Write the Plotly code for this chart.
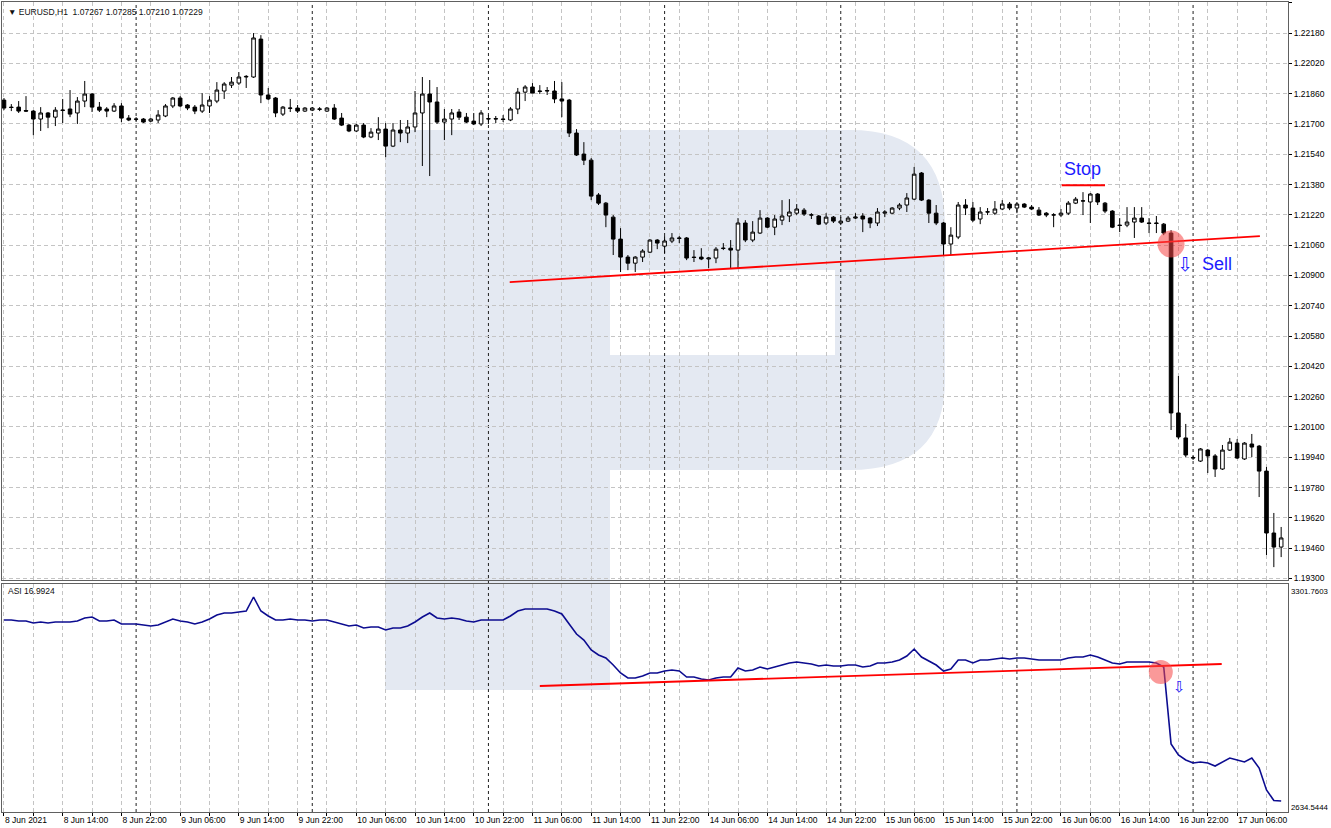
import plotly.graph_objects as go

# ---------------- data ----------------
bars = list(range(175))
open_ = [
 1.21826,1.21789,1.21789,1.21771,1.21768,1.21726,1.21758,1.21736,1.21771,1.21779,
 1.21758,1.21821,1.21858,1.21789,1.21779,1.21768,1.21795,1.21731,1.21726,1.21726,
 1.21715,1.21721,1.21742,1.21795,1.21837,1.21800,1.21789,1.21768,1.21795,1.21821,
 1.21874,1.21905,1.21916,1.21948,1.21948,1.22148,1.21853,1.21837,1.21752,1.21784,
 1.21784,1.21768,1.21773,1.21779,1.21768,1.21784,1.21731,1.21694,1.21663,1.21694,
 1.21631,1.21652,1.21673,1.21583,1.21668,1.21652,1.21684,1.21758,1.21858,1.21816,
 1.21710,1.21726,1.21763,1.21736,1.21715,1.21700,1.21726,1.21726,1.21726,1.21721,
 1.21779,1.21868,1.21895,1.21874,1.21874,1.21874,1.21832,1.21826,1.21652,1.21541,
 1.21509,1.21325,1.21282,1.21208,1.21092,1.20997,1.20965,1.20997,1.21023,1.21087,
 1.21055,1.21082,1.21098,1.21098,1.20997,1.20997,1.20987,1.20992,1.21044,1.21044,
 1.21034,1.21177,1.21087,1.21124,1.21203,1.21155,1.21192,1.21214,1.21229,1.21245,
 1.21219,1.21214,1.21177,1.21208,1.21177,1.21187,1.21203,1.21214,1.21203,1.21177,
 1.21229,1.21229,1.21256,1.21272,1.21303,1.21441,1.21298,1.21229,1.21177,1.21066,
 1.21103,1.21272,1.21256,1.21198,1.21235,1.21229,1.21251,1.21277,1.21256,1.21277,
 1.21261,1.21245,1.21229,1.21219,1.21219,1.21229,1.21282,1.21293,1.21288,1.21330,
 1.21282,1.21240,1.21166,1.21166,1.21182,1.21203,1.21177,1.21177,1.21171,1.21124,
 1.20174,1.20042,1.19936,1.19920,1.19978,1.19947,1.19878,1.19978,1.20015,1.19931,
 1.20010,1.19999,1.19867,1.19540,1.19466]
high = [
 1.21837,1.21805,1.21821,1.21847,1.21773,1.21789,1.21763,1.21789,1.21832,1.21879,
 1.21842,1.21927,1.21863,1.21816,1.21789,1.21810,1.21810,1.21747,1.21736,1.21731,
 1.21731,1.21773,1.21805,1.21842,1.21847,1.21805,1.21800,1.21863,1.21847,1.21921,
 1.21921,1.21948,1.21974,1.21958,1.22180,1.22169,1.21890,1.21842,1.21795,1.21832,
 1.21800,1.21789,1.21789,1.21789,1.21789,1.21805,1.21758,1.21700,1.21700,1.21705,
 1.21678,1.21736,1.21705,1.21705,1.21721,1.21721,1.21874,1.21948,1.21932,1.21895,
 1.21779,1.21779,1.21779,1.21758,1.21758,1.21773,1.21747,1.21742,1.21747,1.21789,
 1.21890,1.21905,1.21916,1.21905,1.21895,1.21927,1.21921,1.21832,1.21673,1.21604,
 1.21520,1.21335,1.21288,1.21219,1.21150,1.21008,1.21002,1.21039,1.21092,1.21092,
 1.21108,1.21124,1.21108,1.21103,1.21034,1.21044,1.20997,1.21050,1.21071,1.21087,
 1.21203,1.21192,1.21187,1.21245,1.21208,1.21219,1.21298,1.21303,1.21277,1.21256,
 1.21229,1.21219,1.21229,1.21214,1.21208,1.21214,1.21229,1.21229,1.21208,1.21256,
 1.21245,1.21261,1.21282,1.21335,1.21473,1.21446,1.21303,1.21272,1.21182,1.21155,
 1.21288,1.21303,1.21288,1.21261,1.21256,1.21293,1.21298,1.21288,1.21288,1.21282,
 1.21272,1.21261,1.21235,1.21229,1.21251,1.21293,1.21314,1.21340,1.21335,1.21335,
 1.21288,1.21245,1.21203,1.21261,1.21261,1.21261,1.21203,1.21214,1.21177,1.21139,
 1.20369,1.20116,1.19947,1.19989,1.19984,1.19957,1.20005,1.20042,1.20036,1.20020,
 1.20063,1.20005,1.19889,1.19646,1.19572]
low = [
 1.21773,1.21768,1.21758,1.21763,1.21641,1.21663,1.21678,1.21689,1.21705,1.21736,
 1.21700,1.21789,1.21763,1.21763,1.21736,1.21763,1.21710,1.21715,1.21715,1.21705,
 1.21710,1.21705,1.21736,1.21784,1.21789,1.21773,1.21752,1.21758,1.21758,1.21810,
 1.21832,1.21890,1.21905,1.21890,1.21943,1.21810,1.21826,1.21736,1.21742,1.21763,
 1.21758,1.21763,1.21768,1.21768,1.21763,1.21721,1.21689,1.21657,1.21657,1.21625,
 1.21625,1.21615,1.21525,1.21578,1.21604,1.21599,1.21657,1.21478,1.21425,1.21700,
 1.21615,1.21641,1.21721,1.21705,1.21694,1.21689,1.21700,1.21705,1.21710,1.21715,
 1.21752,1.21821,1.21863,1.21858,1.21853,1.21810,1.21736,1.21631,1.21531,1.21483,
 1.21298,1.21272,1.21155,1.21008,1.20918,1.20928,1.20918,1.20971,1.21018,1.21039,
 1.21018,1.21071,1.21071,1.20981,1.20971,1.20981,1.20939,1.20965,1.21034,1.20939,
 1.20939,1.21076,1.21076,1.21119,1.21150,1.21113,1.21166,1.21182,1.21219,1.21214,
 1.21198,1.21166,1.21166,1.21177,1.21166,1.21182,1.21198,1.21129,1.21150,1.21161,
 1.21208,1.21224,1.21245,1.21235,1.21298,1.21293,1.21177,1.21166,1.21008,1.21008,
 1.21092,1.21219,1.21182,1.21171,1.21219,1.21219,1.21245,1.21245,1.21229,1.21256,
 1.21245,1.21214,1.21208,1.21155,1.21208,1.21219,1.21277,1.21219,1.21177,1.21272,
 1.21229,1.21150,1.21129,1.21155,1.21098,1.21177,1.21124,1.21124,1.21113,1.20084,
 1.20036,1.19941,1.19926,1.19915,1.19857,1.19836,1.19873,1.19973,1.19931,1.19926,
 1.19941,1.19730,1.19424,1.19360,1.19413]
close = [
 1.21784,1.21787,1.21768,1.21768,1.21726,1.21758,1.21736,1.21773,1.21773,1.21752,
 1.21821,1.21858,1.21789,1.21773,1.21768,1.21795,1.21731,1.21721,1.21725,1.21710,
 1.21726,1.21747,1.21795,1.21837,1.21795,1.21784,1.21768,1.21800,1.21826,1.21879,
 1.21911,1.21921,1.21948,1.21951,1.22154,1.21853,1.21832,1.21758,1.21789,1.21783,
 1.21768,1.21784,1.21784,1.21778,1.21784,1.21726,1.21694,1.21663,1.21694,1.21631,
 1.21657,1.21673,1.21583,1.21668,1.21652,1.21684,1.21758,1.21858,1.21816,1.21710,
 1.21726,1.21758,1.21736,1.21710,1.21700,1.21758,1.21728,1.21728,1.21724,1.21779,
 1.21868,1.21895,1.21863,1.21872,1.21876,1.21832,1.21821,1.21652,1.21536,1.21509,
 1.21319,1.21282,1.21219,1.21092,1.20997,1.20965,1.20997,1.21029,1.21087,1.21071,
 1.21082,1.21098,1.21096,1.20992,1.20995,1.20987,1.20992,1.21039,1.21043,1.21034,
 1.21177,1.21087,1.21129,1.21203,1.21155,1.21198,1.21214,1.21235,1.21251,1.21224,
 1.21220,1.21171,1.21208,1.21187,1.21187,1.21203,1.21208,1.21198,1.21177,1.21235,
 1.21235,1.21256,1.21272,1.21309,1.21435,1.21298,1.21229,1.21177,1.21066,1.21113,
 1.21272,1.21256,1.21192,1.21235,1.21236,1.21251,1.21277,1.21256,1.21277,1.21261,
 1.21251,1.21219,1.21219,1.21220,1.21229,1.21282,1.21303,1.21294,1.21330,1.21288,
 1.21240,1.21155,1.21164,1.21182,1.21203,1.21182,1.21175,1.21175,1.21124,1.20174,
 1.20047,1.19952,1.19938,1.19984,1.19947,1.19878,1.19978,1.20020,1.19936,1.20015,
 1.19994,1.19867,1.19540,1.19466,1.19514]
asi = [
 3193.6,3193.6,3190.5,3190.5,3184.4,3187.4,3184.4,3187.4,3187.4,3187.4,
 3190.5,3199.8,3202.9,3190.5,3190.5,3193.6,3181.3,3181.3,3181.3,3178.2,
 3175.1,3178.2,3187.4,3196.7,3190.5,3187.4,3181.3,3187.4,3196.7,3209.1,
 3215.2,3215.2,3218.3,3221.4,3264.7,3221.4,3206.0,3193.6,3193.6,3196.7,
 3193.6,3193.6,3190.5,3193.6,3193.6,3187.4,3181.3,3175.1,3178.2,3168.9,
 3172.0,3172.0,3162.7,3168.9,3168.9,3175.1,3187.4,3202.9,3215.2,3199.8,
 3196.7,3199.8,3196.7,3190.5,3187.4,3193.6,3193.6,3193.6,3193.6,3206.0,
 3221.4,3227.6,3227.6,3227.6,3227.6,3221.4,3212.2,3181.3,3150.4,3131.8,
 3100.9,3085.5,3076.2,3054.6,3029.9,3014.5,3014.5,3020.6,3029.9,3029.9,
 3036.1,3039.2,3036.1,3017.5,3017.5,3011.4,3008.3,3014.5,3017.5,3017.5,
 3045.3,3036.1,3039.2,3048.4,3042.3,3048.4,3054.6,3060.8,3063.9,3060.8,
 3057.7,3051.5,3054.6,3051.5,3051.5,3054.6,3054.6,3048.4,3051.5,3060.8,
 3060.8,3063.9,3070.1,3082.4,3104.0,3079.3,3067.0,3054.6,3036.1,3042.3,
 3070.1,3070.1,3060.8,3070.1,3070.1,3073.1,3076.2,3073.1,3076.2,3076.2,
 3073.1,3070.1,3070.1,3070.1,3070.1,3076.2,3079.3,3079.3,3085.5,3079.3,
 3070.1,3060.8,3057.7,3063.9,3063.9,3063.9,3063.9,3060.8,3048.4,2810.6,
 2776.6,2761.2,2751.9,2755.0,2751.9,2742.6,2755.0,2767.3,2761.2,2755.0,
 2767.3,2736.4,2668.5,2636.2,2634.5444]

tick_bars = list(range(0, 175, 4))
date_labels = {0: "8 Jun 2021", 8: "8 Jun 14:00", 16: "8 Jun 22:00", 24: "9 Jun 06:00",
               32: "9 Jun 14:00", 40: "9 Jun 22:00", 48: "10 Jun 06:00", 56: "10 Jun 14:00",
               64: "10 Jun 22:00", 72: "11 Jun 06:00", 80: "11 Jun 14:00", 88: "11 Jun 22:00",
               96: "14 Jun 06:00", 104: "14 Jun 14:00", 112: "14 Jun 22:00", 120: "15 Jun 06:00",
               128: "15 Jun 14:00", 136: "15 Jun 22:00", 144: "16 Jun 06:00", 152: "16 Jun 14:00",
               160: "16 Jun 22:00", 168: "17 Jun 06:00"}
day_starts = [18, 42, 66, 90, 114, 138, 162]

trend_price_x = [68.9, 171.1]
trend_price_y = [1.20865, 1.21108]
stop_x = [144.1, 150.0]
stop_y = [1.21377, 1.21377]
signal_price_x = [159.0]
signal_price_y = [1.21066]
trend_asi_x = [73.0, 165.9]
trend_asi_y = [2989.8, 3057.7]
signal_asi_x = [157.6]
signal_asi_y = [3033.0]

asi_max_label = 3301.7603
asi_min_label = 2634.5444

# ---------------- geometry ----------------
W, H = 1331, 828
ML, MR, MT, MB = 2, 43, 2, 16
PW = W - ML - MR
PH = H - MT - MB

def px(x):
    return (x - ML) / PW

def py(y):
    return (MT + PH - y) / PH

FONT = "Liberation Sans"
GRID = "#c4c4c4"
FRAME = "#606060"

fig = go.Figure()

fig.add_trace(go.Candlestick(
    x=bars, open=open_, high=high, low=low, close=close,
    increasing=dict(line=dict(color="black", width=1), fillcolor="white"),
    decreasing=dict(line=dict(color="black", width=1), fillcolor="black"),
    whiskerwidth=0, xaxis="x", yaxis="y", showlegend=False, hoverinfo="skip"))

fig.add_trace(go.Scatter(x=trend_price_x, y=trend_price_y, mode="lines",
                         line=dict(color="#ff0000", width=1.8), xaxis="x", yaxis="y",
                         showlegend=False, hoverinfo="skip"))
fig.add_trace(go.Scatter(x=stop_x, y=stop_y, mode="lines",
                         line=dict(color="#ff0000", width=2), xaxis="x", yaxis="y",
                         showlegend=False, hoverinfo="skip"))
fig.add_trace(go.Scatter(x=signal_price_x, y=signal_price_y, mode="markers",
                         marker=dict(size=27, color="rgba(245,70,70,0.55)", line=dict(width=0)),
                         xaxis="x", yaxis="y", showlegend=False, hoverinfo="skip"))

fig.add_trace(go.Scatter(x=bars, y=asi, mode="lines",
                         line=dict(color="#0c0c90", width=1.6), xaxis="x2", yaxis="y2",
                         showlegend=False, hoverinfo="skip"))
fig.add_trace(go.Scatter(x=trend_asi_x, y=trend_asi_y, mode="lines",
                         line=dict(color="#ff0000", width=1.8), xaxis="x2", yaxis="y2",
                         showlegend=False, hoverinfo="skip"))
fig.add_trace(go.Scatter(x=signal_asi_x, y=signal_asi_y, mode="markers",
                         marker=dict(size=24, color="rgba(245,70,70,0.55)", line=dict(width=0)),
                         xaxis="x2", yaxis="y2", showlegend=False, hoverinfo="skip"))

xrange = [-0.27, 174.93]
top_dom = [py(580), 1]
bot_dom = [0, py(584)]
price_range = [1.19292, 1.22344]
asi_range = [2600.56, 3304.85]

ticktext = [date_labels.get(b, "") for b in tick_bars]

common_x = dict(range=xrange, tickmode="array", tickvals=tick_bars, showgrid=True,
                gridcolor=GRID, griddash="4px,3px", gridwidth=1, zeroline=False,
                showline=True, linecolor=FRAME, mirror=True)

fig.update_layout(
    width=W, height=H, margin=dict(l=ML, r=MR, t=MT, b=MB, pad=0),
    paper_bgcolor="white", plot_bgcolor="rgba(0,0,0,0)",
    font=dict(family=FONT, size=8.3, color="black"),
    xaxis=dict(domain=[0, 1], anchor="y", showticklabels=False, ticks="",
               rangeslider=dict(visible=False), **common_x),
    xaxis2=dict(domain=[0, 1], anchor="y2", ticktext=ticktext, ticks="outside",
                ticklen=3, tickcolor="black", ticklabelposition="outside right",
                tickfont=dict(family=FONT, size=8.5, color="black"), **common_x),
    yaxis=dict(domain=top_dom, anchor="x", side="right", range=price_range,
               tickmode="linear", tick0=1.193, dtick=0.0016, tickformat=".5f",
               ticks="outside", ticklen=3, tickcolor="black",
               tickfont=dict(family=FONT, size=8.5, color="black"),
               showgrid=True, gridcolor=GRID, griddash="4px,3px", gridwidth=1,
               zeroline=False, showline=True, linecolor=FRAME, mirror=True),
    yaxis2=dict(domain=bot_dom, anchor="x2", side="right", range=asi_range,
                showticklabels=False, ticks="", showgrid=False, zeroline=False,
                showline=True, linecolor=FRAME, mirror=True),
    showlegend=False,
)

shapes = []
# watermark logo (decoration)
def P(x, y):
    return f"{px(x):.5f},{py(y):.5f}"
wm = (f"M{P(385,130)} L{P(850,130)} Q{P(945,130)} {P(945,225)} L{P(945,380)} "
      f"Q{P(945,470)} {P(850,470)} L{P(610,470)} L{P(610,690)} L{P(385,690)} Z "
      f"M{P(610,270)} L{P(835,270)} L{P(835,355)} L{P(610,355)} Z")
shapes.append(dict(type="path", path=wm, xref="paper", yref="paper",
                   fillcolor="#e4e9f2", line=dict(width=0), layer="below", fillrule="evenodd"))
for d in day_starts:
    shapes.append(dict(type="line", xref="x", yref="paper", x0=d, x1=d, y0=0, y1=1,
                       line=dict(color="#202020", width=1, dash="3px,3px"), layer="below"))
fig.update_layout(shapes=shapes)

ann = []
ann.append(dict(text="▼ EURUSD,H1  1.07267 1.07285 1.07210 1.07229", xref="paper", yref="paper",
                x=px(6), y=py(12), xanchor="left", yanchor="middle", showarrow=False,
                font=dict(family=FONT, size=8.5, color="#101010")))
ann.append(dict(text="ASI 16.9924", xref="paper", yref="paper",
                x=px(6), y=py(591), xanchor="left", yanchor="middle", showarrow=False,
                font=dict(family=FONT, size=8.5, color="#101010")))
ann.append(dict(text=f"{asi_max_label:.4f}", xref="paper", yref="y2", x=1.0, y=asi_max_label,
                xanchor="left", yanchor="top", xshift=1, showarrow=False,
                font=dict(family=FONT, size=7.8, color="black")))
ann.append(dict(text=f"{asi_min_label:.4f}", xref="paper", yref="y2", x=1.0, y=asi_min_label,
                xanchor="left", yanchor="top", xshift=1, showarrow=False,
                font=dict(family=FONT, size=7.8, color="black")))
ann.append(dict(text="Stop", xref="x", yref="y", x=147.0, y=1.21462, showarrow=False,
                xanchor="center", yanchor="middle", font=dict(family=FONT, size=18, color="#1c1cff")))
ann.append(dict(text="⇩", xref="x", yref="y", x=160.9, y=1.20960, showarrow=False,
                xanchor="center", yanchor="middle", font=dict(family="DejaVu Sans", size=19, color="#1c1cff")))
ann.append(dict(text="Sell", xref="x", yref="y", x=162.9, y=1.20960, showarrow=False,
                xanchor="left", yanchor="middle", font=dict(family=FONT, size=18, color="#1c1cff")))
ann.append(dict(text="⇩", xref="x2", yref="y2", x=160.1, y=2986.7, showarrow=False,
                xanchor="center", yanchor="middle", font=dict(family="DejaVu Sans", size=15, color="#1c1cff")))
fig.update_layout(annotations=ann)

fig.write_html("out.html")
